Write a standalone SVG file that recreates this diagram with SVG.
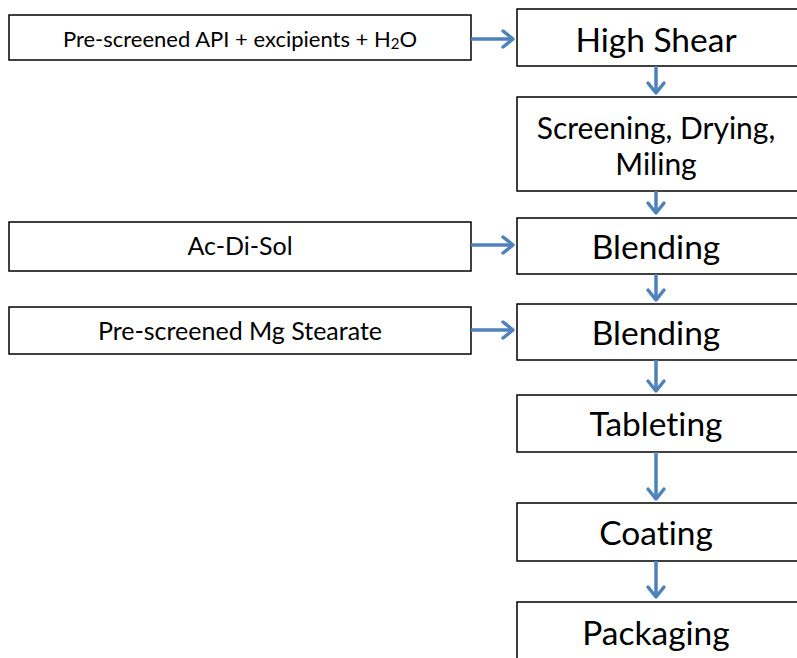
<svg xmlns="http://www.w3.org/2000/svg" width="797" height="658" viewBox="0 0 797 658">
<defs>
<style>
.box{fill:#fff;stroke:#000;stroke-width:1.5}
.t{font-family:Lato,"Open Sans","Liberation Sans",sans-serif;fill:#000;text-anchor:middle;dominant-baseline:central;font-variant-ligatures:none;font-feature-settings:"liga" 0,"dlig" 0}
.s{font-size:25px}
.b{font-size:33.5px}
.m{font-size:30px}
.c{fill:none;stroke:#4F81BD;stroke-width:3.5}
.h{fill:none;stroke:#4F81BD;stroke-width:3.5;stroke-linecap:round;stroke-linejoin:round}
</style>
</defs>
<rect width="797" height="658" fill="#fff"/>
<g id="in1"><rect class="box" x="9" y="15" width="462" height="45"/><text class="t" font-size="22" x="240" y="38">Pre-screened API + excipients + H<tspan font-size="15" dy="5">2</tspan><tspan dy="-5">O</tspan></text></g>
<g id="in2"><rect class="box" x="9" y="222" width="462" height="49"/><text class="t s" x="240" y="245">Ac-Di-Sol</text></g>
<g id="in3"><rect class="box" x="9" y="307" width="462" height="47"/><text class="t s" x="240" y="330">Pre-screened Mg Stearate</text></g>
<g id="highshear"><rect class="box" x="517" y="9" width="290" height="57"/><text class="t b" x="656" y="39">High Shear</text></g>
<g id="screening"><rect class="box" x="517" y="97" width="290" height="94"/><text class="t m" x="656" y="127">Screening, Drying,</text><text class="t m" x="656" y="163">Miling</text></g>
<g id="blend1"><rect class="box" x="517" y="218" width="290" height="56"/><text class="t b" x="656" y="246">Blending</text></g>
<g id="blend2"><rect class="box" x="517" y="304" width="290" height="56"/><text class="t b" x="656" y="332">Blending</text></g>
<g id="tablet"><rect class="box" x="517" y="395" width="290" height="57"/><text class="t b" x="656" y="423">Tableting</text></g>
<g id="coat"><rect class="box" x="517" y="503" width="290" height="58"/><text class="t b" x="656" y="532">Coating</text></g>
<g id="pack"><rect class="box" x="517" y="602" width="290" height="70"/><text class="t b" x="656" y="632">Packaging</text></g>
<g id="connectors">
<path class="c" d="M471 39H512"/><path class="h" d="M503 31L513 39L503 47"/>
<path class="c" d="M471 245H512"/><path class="h" d="M503 237L513 245L503 253"/>
<path class="c" d="M471 330H512"/><path class="h" d="M503 322L513 330L503 338"/>
<path class="c" d="M656 66V92"/><path class="h" d="M648 83L656 93L664 83"/>
<path class="c" d="M656 191V212"/><path class="h" d="M648 203L656 213L664 203"/>
<path class="c" d="M656 274V299"/><path class="h" d="M648 290L656 300L664 290"/>
<path class="c" d="M656 360V390"/><path class="h" d="M648 381L656 391L664 381"/>
<path class="c" d="M656 452V498"/><path class="h" d="M648 489L656 499L664 489"/>
<path class="c" d="M656 561V596"/><path class="h" d="M648 587L656 597L664 587"/>
</g>
</svg>
